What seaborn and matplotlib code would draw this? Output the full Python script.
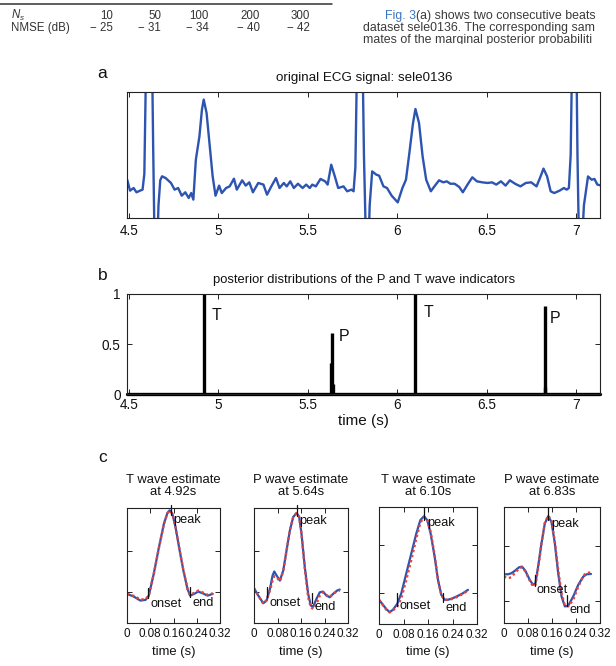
import numpy as np
import pandas as pd
import matplotlib
matplotlib.use("Agg")
import matplotlib.pyplot as plt
import seaborn as sns
from matplotlib.patches import Rectangle

# ---------------- data ----------------
table_ns = ["10", "50", "100", "200", "300"]
table_nmse = ["\u2212 25", "\u2212 31", "\u2212 34", "\u2212 40", "\u2212 42"]

ecg_t = [4.490, 4.506, 4.526, 4.542, 4.562, 4.576, 4.586, 4.596, 4.609, 4.629,
         4.635, 4.641, 4.649, 4.657, 4.665, 4.675, 4.685, 4.705, 4.735, 4.755,
         4.775, 4.795, 4.815, 4.834, 4.848, 4.860, 4.874, 4.894, 4.908, 4.918,
         4.934, 4.954, 4.968, 4.984, 5.004, 5.019, 5.043, 5.063, 5.087, 5.103,
         5.133, 5.153, 5.173, 5.193, 5.223, 5.252, 5.272, 5.296, 5.322, 5.342,
         5.366, 5.382, 5.402, 5.422, 5.445, 5.471, 5.491, 5.511, 5.525, 5.545,
         5.571, 5.597, 5.611, 5.631, 5.651, 5.670, 5.700, 5.720, 5.744, 5.756,
         5.766, 5.776, 5.792, 5.806, 5.814, 5.822, 5.830, 5.838, 5.846, 5.860,
         5.883, 5.899, 5.923, 5.943, 5.969, 6.003, 6.029, 6.049, 6.068, 6.088,
         6.102, 6.122, 6.142, 6.162, 6.188, 6.208, 6.234, 6.258, 6.277, 6.297,
         6.321, 6.347, 6.367, 6.393, 6.420, 6.446, 6.476, 6.506, 6.530, 6.554,
         6.580, 6.606, 6.630, 6.659, 6.689, 6.719, 6.749, 6.779, 6.799, 6.818,
         6.838, 6.858, 6.878, 6.908, 6.932, 6.948, 6.960, 6.970, 6.978, 6.990,
         7.002, 7.008, 7.014, 7.022, 7.030, 7.044, 7.067, 7.087, 7.103, 7.119,
         7.143]
ecg_v = [0.304, 0.217, 0.238, 0.204, 0.217, 0.225, 0.350, 1.300, 2.400, 1.300,
         0.600, 0.000, -0.500, -0.300, 0.100, 0.300, 0.331, 0.317, 0.278, 0.225,
         0.238, 0.177, 0.204, 0.159, 0.198, 0.146, 0.463, 0.648, 0.860, 0.940,
         0.833, 0.542, 0.330, 0.177, 0.257, 0.198, 0.238, 0.251, 0.312, 0.225,
         0.299, 0.257, 0.283, 0.204, 0.278, 0.265, 0.185, 0.251, 0.317, 0.238,
         0.278, 0.251, 0.291, 0.238, 0.272, 0.238, 0.265, 0.238, 0.265, 0.251,
         0.310, 0.291, 0.265, 0.423, 0.331, 0.238, 0.251, 0.212, 0.225, 0.212,
         0.400, 1.300, 2.400, 1.300, 0.500, 0.000, -0.500, -0.300, 0.100, 0.370,
         0.344, 0.336, 0.251, 0.238, 0.177, 0.124, 0.238, 0.304, 0.516, 0.750,
         0.865, 0.754, 0.489, 0.304, 0.212, 0.251, 0.299, 0.283, 0.291, 0.272,
         0.272, 0.246, 0.204, 0.265, 0.323, 0.291, 0.283, 0.278, 0.283, 0.265,
         0.291, 0.257, 0.299, 0.272, 0.251, 0.278, 0.283, 0.251, 0.320, 0.392,
         0.331, 0.212, 0.198, 0.217, 0.238, 0.225, 0.238, 0.500, 1.300, 2.400,
         1.300, 0.500, 0.000, -0.500, -0.300, 0.100, 0.330, 0.304, 0.310, 0.265,
         0.257]

stem_t = [4.920, 5.627, 5.637, 5.641, 6.098, 6.827, 6.829]
stem_h = [1.00, 0.31, 0.61, 0.10, 1.00, 0.884, 0.07]
stem_label = ["T", "P", "T", "P"]
stem_label_t = [4.99, 5.705, 6.175, 6.885]
stem_label_v = [0.785, 0.576, 0.81, 0.75]

c_titles = ["T wave estimate\nat 4.92s", "P wave estimate\nat 5.64s",
            "T wave estimate\nat 6.10s", "P wave estimate\nat 6.83s"]

c1_t = [0.000, 0.023, 0.046, 0.064, 0.075, 0.092, 0.110, 0.127, 0.139, 0.147,
        0.156, 0.167, 0.179, 0.194, 0.208, 0.217, 0.231, 0.245, 0.260, 0.277, 0.295]
c1_true = [0.253, 0.230, 0.195, 0.201, 0.238, 0.427, 0.660, 0.863, 0.956, 0.980,
           0.951, 0.834, 0.660, 0.456, 0.297, 0.238, 0.253, 0.273, 0.259, 0.238, 0.253]
c1_est = [0.256, 0.236, 0.205, 0.206, 0.240, 0.425, 0.655, 0.860, 0.955, 0.978,
          0.950, 0.832, 0.662, 0.460, 0.300, 0.244, 0.262, 0.282, 0.266, 0.245, 0.258]

c2_t = [0.000, 0.0147, 0.0317, 0.043, 0.0543, 0.0633, 0.069, 0.0769, 0.0882, 0.0995,
        0.1108, 0.1221, 0.1335, 0.1448, 0.1538, 0.1617, 0.173, 0.1844, 0.1934, 0.2013,
        0.2126, 0.2239, 0.2352, 0.2466, 0.2579, 0.2692, 0.2828, 0.2918]
c2_true = [0.302, 0.238, 0.172, 0.195, 0.297, 0.413, 0.448, 0.413, 0.369, 0.456,
           0.631, 0.805, 0.922, 0.956, 0.922, 0.776, 0.485, 0.253, 0.151, 0.142,
           0.209, 0.267, 0.273, 0.238, 0.224, 0.253, 0.282, 0.291]
c2_est = [0.302, 0.238, 0.166, 0.201, 0.282, 0.369, 0.407, 0.398, 0.363, 0.451,
          0.631, 0.805, 0.922, 0.956, 0.922, 0.776, 0.471, 0.224, 0.137, 0.122,
          0.166, 0.238, 0.267, 0.244, 0.224, 0.253, 0.276, 0.282]

c3_t = [0.000, 0.0131, 0.0239, 0.0348, 0.0457, 0.0598, 0.0729, 0.0892, 0.1055, 0.1218,
        0.1349, 0.1469, 0.1578, 0.1686, 0.1817, 0.1926, 0.2035, 0.2143, 0.2252, 0.2415,
        0.2579, 0.2742, 0.2905]
c3_true = [0.207, 0.164, 0.127, 0.102, 0.122, 0.173, 0.263, 0.433, 0.603, 0.773,
           0.887, 0.921, 0.887, 0.773, 0.575, 0.377, 0.249, 0.207, 0.207, 0.221,
           0.241, 0.263, 0.292]
c3_est = [0.207, 0.159, 0.122, 0.099, 0.116, 0.150, 0.221, 0.377, 0.547, 0.731,
          0.864, 0.915, 0.892, 0.788, 0.589, 0.377, 0.249, 0.207, 0.207, 0.215,
          0.235, 0.258, 0.286]

c4_t = [0.000, 0.0134, 0.0245, 0.0357, 0.0502, 0.0602, 0.0714, 0.0859, 0.097, 0.1048,
        0.1137, 0.1249, 0.136, 0.1472, 0.1583, 0.1695, 0.1806, 0.1918, 0.2029, 0.2141,
        0.2308, 0.2475, 0.2643, 0.2754, 0.2899]
c4_true = [0.420, 0.420, 0.429, 0.449, 0.480, 0.486, 0.449, 0.371, 0.329, 0.343,
           0.486, 0.686, 0.857, 0.920, 0.871, 0.686, 0.429, 0.229, 0.143, 0.149,
           0.229, 0.329, 0.400, 0.420, 0.423]
c4_est = [0.400, 0.386, 0.394, 0.429, 0.471, 0.480, 0.443, 0.366, 0.314, 0.329,
          0.471, 0.686, 0.863, 0.926, 0.886, 0.700, 0.457, 0.257, 0.149, 0.143,
          0.200, 0.314, 0.406, 0.434, 0.434]

# fiducial markers: (time, y_low, y_high) for onset, peak, end
c_onset = [(0.073, 0.218, 0.302), (0.045, 0.224, 0.311), (0.060, 0.150, 0.269), (0.1026, 0.320, 0.414)]
c_peak = [(0.150, 0.936, 1.030), (0.145, 0.927, 1.030), (0.147, 0.892, 1.000), (0.147, 0.891, 1.000)]
c_end = [(0.217, 0.224, 0.311), (0.198, 0.172, 0.262), (0.209, 0.184, 0.269), (0.2107, 0.149, 0.243)]
c_onset_lbl = [(0.081, 0.166), (0.054, 0.174), (0.067, 0.150), (0.108, 0.286)]
c_peak_lbl = [(0.159, 0.892), (0.154, 0.887), (0.158, 0.867), (0.158, 0.857)]
c_end_lbl = [(0.225, 0.172), (0.205, 0.137), (0.2165, 0.136), (0.217, 0.109)]
c_yticks = [[0.27, 0.63], [0.267, 0.63], [0.263, 0.674], [0.186, 0.666]]

c_series = [(c1_t, c1_true, c1_est), (c2_t, c2_true, c2_est),
            (c3_t, c3_true, c3_est), (c4_t, c4_true, c4_est)]

# ---------------- style ----------------
sns.set_theme(style="white")
plt.rcParams["font.family"] = ["Liberation Sans", "DejaVu Sans"]
plt.rcParams["mathtext.fontset"] = "custom"
plt.rcParams["mathtext.it"] = "Liberation Sans:italic"
plt.rcParams["mathtext.rm"] = "Liberation Sans"

W, H = 616, 666
fig = plt.figure(figsize=(W / 100, H / 100), dpi=100)
fig.patch.set_facecolor("white")

BLUE = "#2c54b0"
RED = "#e8413a"
FRAME = "#222222"


def box(x0, y0, x1, y1):
    return [x0 / W, 1 - y1 / H, (x1 - x0) / W, (y1 - y0) / H]


def fx(x):
    return x / W


def fy(y):
    return 1 - y / H


def style_axes(ax, lw=0.8, labelsize=9, pad=3.5):
    for s in ax.spines.values():
        s.set_color(FRAME)
        s.set_linewidth(lw)
        s.set_visible(True)
    ax.tick_params(direction="in", length=3.5, width=0.7, color=FRAME,
                   top=True, right=True, bottom=True, left=True,
                   labelsize=labelsize, pad=pad, labelcolor="#111111")
    ax.set_xlabel("")
    ax.set_ylabel("")
    ax.set_facecolor("white")


# ---------------- page text (table + paragraph) ----------------
fig.add_artist(plt.Line2D([0, fx(332)], [fy(3.5), fy(3.5)], color="#333333", lw=1.1,
                          transform=fig.transFigure))
tcol = "#333333"
TFS = 8.3
fig.text(fx(11), fy(15.5), r"$N_s$", fontsize=TFS, color=tcol, va="center", ha="left")
fig.text(fx(11), fy(28), "NMSE (dB)", fontsize=TFS, color=tcol, va="center", ha="left")
col_x = [113, 161, 209, 260, 310]
for cx, a, b in zip(col_x, table_ns, table_nmse):
    fig.text(fx(cx), fy(16), a, fontsize=TFS, color=tcol, va="center", ha="right")
    fig.text(fx(cx), fy(28), b, fontsize=TFS, color=tcol, va="center", ha="right")

pcol = "#3a3a3a"
PFS = 8.9
renderer = fig.canvas.get_renderer()
t_link = fig.text(fx(385), fy(16), "Fig. 3", fontsize=PFS, color="#3b74c0",
                  va="center", ha="left")
link_w = t_link.get_window_extent(renderer=renderer).width
fig.text(fx(385 + link_w), fy(16), "(a) shows two consecutive beats", fontsize=PFS,
         color=pcol, va="center", ha="left")
fig.text(fx(363), fy(28), "dataset sele0136. The corresponding sam", fontsize=PFS,
         color=pcol, va="center", ha="left")
fig.text(fx(363), fy(40.5), "mates of the marginal posterior probabiliti", fontsize=PFS,
         color=pcol, va="center", ha="left")
fig.add_artist(Rectangle((fx(340), fy(56)), fx(276), (56 - 43.5) / H, transform=fig.transFigure,
                         facecolor="white", edgecolor="none", zorder=10))

# ---------------- panel a ----------------
ax_a = fig.add_axes(box(127, 92, 600, 218))
df_a = pd.DataFrame({"t": ecg_t, "v": ecg_v})
sns.lineplot(data=df_a, x="t", y="v", ax=ax_a, color=BLUE, lw=1.7, sort=False,
             estimator=None)
ax_a.set_xlim(4.489, 7.134)
ax_a.set_ylim(0, 1)
ax_a.set_yticks([])
ax_a.set_xticks([4.5, 5, 5.5, 6, 6.5, 7])
ax_a.set_xticklabels(["4.5", "5", "5.5", "6", "6.5", "7"])
style_axes(ax_a, labelsize=9.8, pad=4.5)
fig.text(fx(102), fy(74), "a", fontsize=12.5, ha="center", va="center", color="#111111")
fig.text(fx(364), fy(78), "original ECG signal: sele0136", fontsize=9.6, ha="center",
         va="center", color="#111111")

# ---------------- panel b ----------------
ax_b = fig.add_axes(box(127, 294, 600, 394))
ax_b.vlines(stem_t, 0, stem_h, color="black", lw=2.4)
ax_b.axhline(0, color="black", lw=2.4, clip_on=False)
for lbl, lt, lv in zip(stem_label, stem_label_t, stem_label_v):
    ax_b.text(lt, lv, lbl, fontsize=11.5, ha="center", va="center", color="#111111")
ax_b.set_xlim(4.489, 7.134)
ax_b.set_ylim(0, 1)
ax_b.set_xticks([4.5, 5, 5.5, 6, 6.5, 7])
ax_b.set_xticklabels(["4.5", "5", "5.5", "6", "6.5", "7"])
ax_b.set_yticks([0, 0.5, 1])
ax_b.set_yticklabels(["0", "0.5", "1"])
style_axes(ax_b, labelsize=9.8, pad=3.0)
ax_b.tick_params(axis="y", pad=4.5)
fig.text(fx(103), fy(276), "b", fontsize=12.5, ha="center", va="center", color="#111111")
fig.text(fx(364), fy(280), "posterior distributions of the P and T wave indicators",
         fontsize=9.4, ha="center", va="center", color="#111111")
fig.text(fx(363), fy(421), "time (s)", fontsize=11, ha="center", va="center",
         color="#111111")

# ---------------- panel c ----------------
fig.text(fx(103), fy(458), "c", fontsize=12.5, ha="center", va="center", color="#111111")
c_boxes = [(127, 508, 220, 623), (254, 508, 348, 623), (379, 507, 477, 624), (504, 507, 600, 623)]
for i, (bx, (tt, tv, ev)) in enumerate(zip(c_boxes, c_series)):
    ax = fig.add_axes(box(*bx))
    d = pd.DataFrame({"t": tt, "true": tv, "est": ev})
    sns.lineplot(data=d, x="t", y="true", ax=ax, color=BLUE, lw=1.6, sort=False,
                 estimator=None)
    sns.lineplot(data=d, x="t", y="est", ax=ax, color=RED, lw=1.7, sort=False,
                 estimator=None, linestyle=(0, (1, 1.2)))
    for (mt, y0, y1) in (c_onset[i], c_peak[i], c_end[i]):
        ax.plot([mt, mt], [y0, y1], color="#111111", lw=0.9, clip_on=False)
    ax.text(*c_onset_lbl[i], "onset", fontsize=9.2, ha="left", va="center", color="#111111")
    ax.text(*c_peak_lbl[i], "peak", fontsize=9.2, ha="left", va="center", color="#111111")
    ax.text(*c_end_lbl[i], "end", fontsize=9.2, ha="left", va="center", color="#111111")
    ax.set_xlim(0, 0.32)
    ax.set_ylim(0, 1)
    ax.set_xticks([0, 0.08, 0.16, 0.24, 0.32])
    ax.set_xticklabels(["0", "0.08", "0.16", "0.24", "0.32"])
    ax.set_yticks(c_yticks[i])
    ax.set_yticklabels([])
    style_axes(ax, labelsize=8.4, pad=3.5)
    cx = (bx[0] + bx[2]) / 2
    fig.text(fx(cx), fy(486), c_titles[i], fontsize=9.4, ha="center", va="center",
             linespacing=1.1, color="#111111")
    fig.text(fx(cx), fy(652), "time (s)", fontsize=9.4, ha="center", va="center",
             color="#111111")

fig.savefig("out.png", dpi=100)
